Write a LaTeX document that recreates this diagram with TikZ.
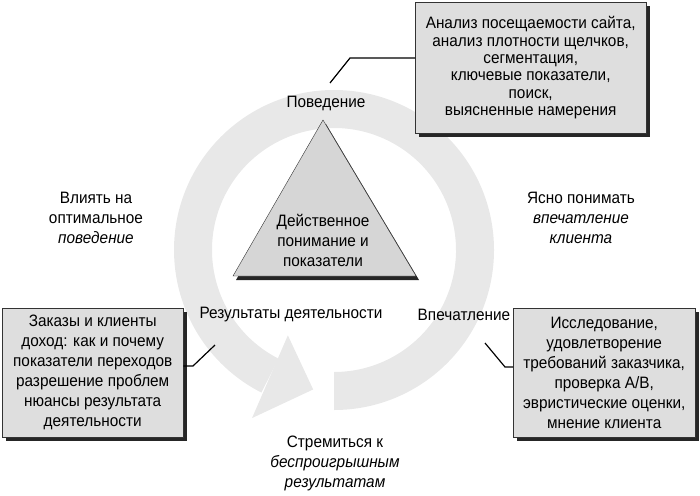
\documentclass[tikz,border=0pt]{standalone}
\usepackage{fontspec}
\setmainfont{Liberation Sans}[FakeStretch=0.93]
\usetikzlibrary{shadows}

\begin{document}
\begin{tikzpicture}[x=1pt,y=-1pt,font=\fontsize{16.5}{20}\selectfont]
                        \tikzstyle{ringfill}=[fill=black!9]
                        \tikzstyle{infobox}=[draw=black!80, fill=black!13, align=center, inner sep=0pt, anchor=north west,
                            general shadow={fill=black!85, shadow xshift=4pt, shadow yshift=-4pt}]
                        \tikzstyle{caption}=[align=center]
                        \tikzstyle{link}=[draw=black, line width=1.2pt]
                        \useasboundingbox (0,0) rectangle (700,495);
                        % circular arrow
                        \fill[ringfill, shift={(334,250)}] (90:160) arc[start angle=90, end angle=-243, radius=160]
                            -- (-243:122) arc[start angle=-243, end angle=90, radius=122] -- cycle;
                        \fill[ringfill, shift={(334,250)}] (-241.6:97) -- (-261.5:141) -- (-244:187) -- cycle;
                        % triangle
                        \fill[black!85, shift={(3,4)}] (323,120) -- (233,276) -- (416,276) -- cycle;
                        \filldraw[draw=black!80, fill=black!16] (323,120) -- (233,276) -- (416,276) -- cycle;
                        \node[caption] (deistv) at (323,240) {Действенное\\понимание и\\показатели};
                        % labels
                        \node (povedenie) at (326,103) {Поведение};
                        \node (rezult) at (291,315) {Результаты деятельности};
                        \node (vpechat) at (464,315) {Впечатление};
                        \node[caption] (vliyat) at (96,218) {Влиять на\\оптимальное\\\textit{поведение}};
                        \node[caption] (yasno) at (581,218) {Ясно понимать\\\textit{впечатление}\\\textit{клиента}};
                        \node[caption] (stremit) at (335,463) {Стремиться к\\\textit{беспроигрышным}\\\textit{результатам}};
                        % boxes
                        \node[infobox, minimum width=231pt, minimum height=131pt, font=\fontsize{16.5}{17.4}\selectfont] (analiz) at (415,2)
                            {Анализ посещаемости сайта,\\анализ плотности щелчков,\\сегментация,\\ключевые показатели,\\поиск,\\выясненные намерения};
                        \node[infobox, minimum width=181pt, minimum height=129pt] (zakazy) at (2,308)
                            {Заказы и клиенты\\доход: как и почему\\показатели переходов\\разрешение проблем\\нюансы результата\\деятельности};
                        \node[infobox, minimum width=182pt, minimum height=129pt] (issled) at (513,308)
                            {Исследование,\\удовлетворение\\требований заказчика,\\проверка A/B,\\эвристические оценки,\\мнение клиента};
                        % connectors
                        \coordinate (k-top) at (350,58);
                        \coordinate (k-top-end) at (330,83);
                        \coordinate (k-left) at (193,366);
                        \coordinate (k-left-end) at (215,345);
                        \coordinate (k-right) at (505,367);
                        \coordinate (k-right-end) at (485,343);
                        \draw[link] (analiz.west |- k-top) -- (k-top) -- (k-top-end);
                        \draw[link] (zakazy.east |- k-left) -- (k-left) -- (k-left-end);
                        \draw[link] (issled.west |- k-right) -- (k-right) -- (k-right-end);
                    \end{tikzpicture}
\end{document}
